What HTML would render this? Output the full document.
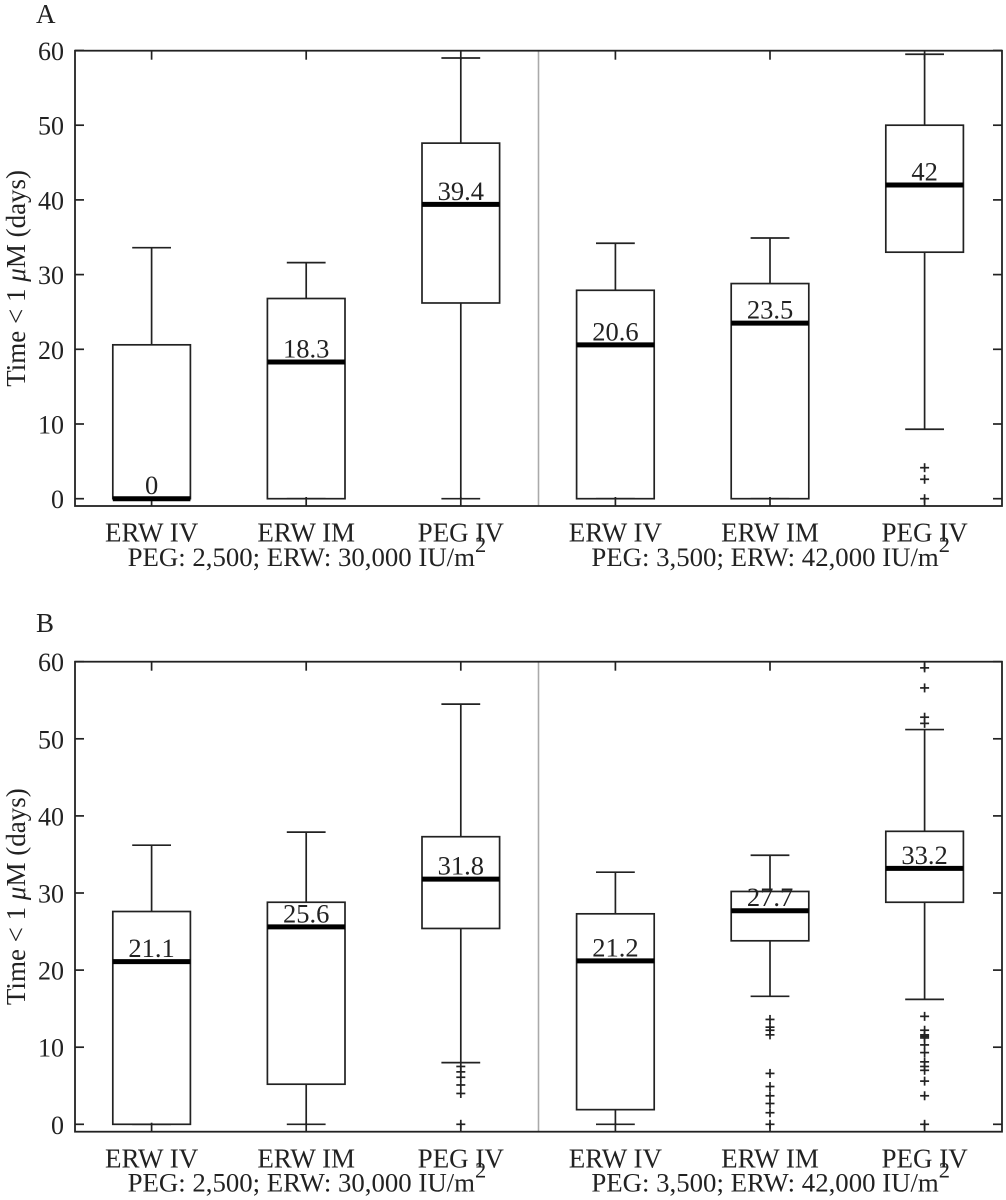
<!DOCTYPE html>
<html>
<head>
<meta charset="utf-8">
<title>Time below 1 µM box plots</title>
<style>
html,body{margin:0;padding:0;background:#fff;}
svg{display:block;}
text{font-family:"Liberation Serif",serif;fill:#222;font-size:27px;}
</style>
</head>
<body>
<svg id="chart" xmlns="http://www.w3.org/2000/svg" width="1006" height="1200" viewBox="0 0 1006 1200"></svg>
<script>
const categories = ["ERW IV", "ERW IM", "PEG IV", "ERW IV", "ERW IM", "PEG IV"];
const yTickLabels = [0, 10, 20, 30, 40, 50, 60];
const groupLabels = ["PEG: 2,500; ERW: 30,000 IU/m", "PEG: 3,500; ERW: 42,000 IU/m"];
const panelLabels = ["A", "B"];

const aWhiskerLow  = [0, 0, 0, 0, 0, 9.3];
const aQ1          = [0, 0, 26.2, 0, 0, 33];
const aMedian      = [0, 18.3, 39.4, 20.6, 23.5, 42];
const aQ3          = [20.6, 26.8, 47.6, 27.9, 28.8, 50];
const aWhiskerHigh = [33.6, 31.6, 59, 34.2, 34.9, 59.5];
const aOutliers    = [[], [], [], [], [], [0, 2.6, 4.15]];

const bWhiskerLow  = [0, 0, 8, 0, 16.6, 16.2];
const bQ1          = [0, 5.2, 25.4, 1.9, 23.8, 28.8];
const bMedian      = [21.1, 25.6, 31.8, 21.2, 27.7, 33.2];
const bQ3          = [27.6, 28.8, 37.3, 27.3, 30.2, 38];
const bWhiskerHigh = [36.2, 37.9, 54.5, 32.7, 34.9, 51.2];
const bOutliers    = [
  [], [],
  [0, 4, 5.1, 6.1, 6.8, 7.5],
  [],
  [0, 1.5, 2.7, 3.7, 4.9, 6.6, 11.6, 12.2, 12.6, 13.6],
  [0, 3.7, 5.6, 7, 7.5, 8.1, 9.3, 10.3, 11.2, 11.4, 11.6, 12.2, 14, 52, 52.8, 56.6, 59.2]
];

const NS = "http://www.w3.org/2000/svg";
const svg = document.getElementById("chart");
const INK = "#222";

function make(tag, name, attrs, parent) {
  const el = document.createElementNS(NS, tag);
  
  
  for (const k in attrs) el.setAttribute(k, attrs[k]);
  parent.appendChild(el);
  return el;
}
function line(name, x1, y1, x2, y2, parent, width, color) {
  return make("line", name, {x1, y1, x2, y2, stroke: color || INK, "stroke-width": width || 1.7}, parent);
}

function drawPanel(cfg) {
  const left = 75, right = 1002;
  const xScale = i => 151.6 + i * 154.6;
  const yScale = v => cfg.zeroY - v * cfg.unit;
  const g = make("g", "panel-" + cfg.key, {}, svg);

  const title = make("text", "panel-label-" + cfg.key, {x: 36, y: cfg.titleY}, g);
  title.textContent = cfg.label;

  // separator between dose groups
  line("dose-group-separator", 538.5, cfg.top, 538.5, cfg.bottom, g, 1.6, "#aaa");

  // ticks
  yTickLabels.forEach(v => {
    const y = yScale(v);
    line("y-tick-left-" + v, left, y, left + 9, y, g);
    line("y-tick-right-" + v, right - 9, y, right, y, g);
    const t = make("text", "y-tick-label-" + v, {x: 64, y: y + 9.5, "text-anchor": "end"}, g);
    t.style.fontSize = "26px";
    t.textContent = v;
  });
  categories.forEach((c, i) => {
    const x = xScale(i);
    line("x-tick-bottom-" + i, x, cfg.bottom, x, cfg.bottom - 9, g);
    line("x-tick-top-" + i, x, cfg.top, x, cfg.top + 9, g);
    const t = make("text", "x-tick-label-" + i, {x: x, y: cfg.bottom + 35.7, "text-anchor": "middle"}, g);
    t.textContent = c;
  });

  // boxes
  categories.forEach((c, i) => {
    const x = xScale(i);
    const hw = 38.8, cap = 19.4;
    const box = make("g", "box-" + cfg.key + "-" + i, {}, g);
    line("whisker-high", x, yScale(cfg.q3[i]), x, yScale(cfg.hi[i]), box);
    line("whisker-low", x, yScale(cfg.q1[i]), x, yScale(cfg.lo[i]), box);
    line("whisker-cap-high", x - cap, yScale(cfg.hi[i]), x + cap, yScale(cfg.hi[i]), box);
    line("whisker-cap-low", x - cap, yScale(cfg.lo[i]), x + cap, yScale(cfg.lo[i]), box);
    make("rect", "interquartile-box", {
      x: x - hw, y: yScale(cfg.q3[i]), width: hw * 2,
      height: yScale(cfg.q1[i]) - yScale(cfg.q3[i]),
      fill: "none", stroke: INK, "stroke-width": 1.7
    }, box);
    line("median-line", x - hw, yScale(cfg.med[i]), x + hw, yScale(cfg.med[i]), box, 5, "#000");
    cfg.out[i].forEach(v => {
      const y = yScale(v);
      line("outlier-h", x - 4.5, y, x + 4.5, y, box, 1.7);
      line("outlier-v", x, y - 4.5, x, y + 4.5, box, 1.7);
    });
    const label = make("text", "median-value", {x: x, y: yScale(cfg.med[i]) - 4.5, "text-anchor": "middle"}, box);
    label.style.fontSize = "26.5px";
    label.textContent = cfg.med[i];
  });

  // frame
  make("rect", "plot-frame", {
    x: left, y: cfg.top, width: right - left, height: cfg.bottom - cfg.top,
    fill: "none", stroke: INK, "stroke-width": 1.8
  }, g);

  // y title
  const cy = (cfg.top + cfg.bottom) / 2;
  const yt = make("text", "y-axis-title", {
    x: 0, y: 0, "text-anchor": "middle",
    transform: "translate(25 " + cy + ") rotate(-90)"
  }, g);
  yt.appendChild(document.createTextNode("Time < 1 "));
  const mu = make("tspan", "mu-symbol", {"font-style": "italic"}, yt);
  mu.textContent = "\u03bc";
  yt.appendChild(document.createTextNode("M (days)"));

  // group labels
  groupLabels.forEach((txt, i) => {
    const t = make("text", "dose-group-label-" + i, {x: xScale(i * 3 + 1) - 178.6, y: cfg.bottom + 60}, g);
    t.style.fontSize = "26.8px";
    t.appendChild(document.createTextNode(txt));
    const sup = make("tspan", "superscript-2", {dy: -14}, t);
    sup.style.fontSize = "22.5px";
    sup.textContent = "2";
  });
}

drawPanel({
  key: "a", label: panelLabels[0], titleY: 23, top: 50.7, bottom: 506, zeroY: 498.7, unit: 7.47,
  lo: aWhiskerLow, q1: aQ1, med: aMedian, q3: aQ3, hi: aWhiskerHigh, out: aOutliers
});
drawPanel({
  key: "b", label: panelLabels[1], titleY: 632, top: 661.7, bottom: 1131.7, zeroY: 1124.3, unit: 7.71,
  lo: bWhiskerLow, q1: bQ1, med: bMedian, q3: bQ3, hi: bWhiskerHigh, out: bOutliers
});
</script>
</body>
</html>
